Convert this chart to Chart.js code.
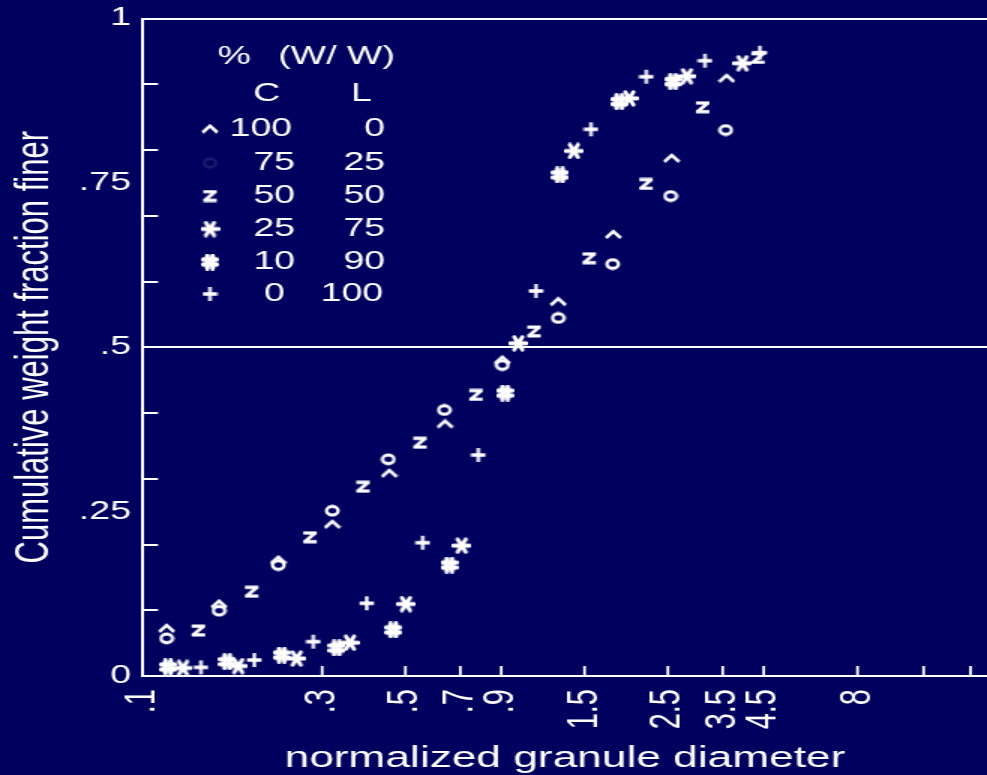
<!DOCTYPE html>
<html>
<head>
<meta charset="utf-8">
<script src="https://cdn.jsdelivr.net/npm/chart.js@4.4.1/dist/chart.umd.min.js"></script>
<style>
html,body{margin:0;padding:0;background:#00005f;overflow:hidden;}
#wrap{width:658px;height:775px;transform:scaleX(1.5);transform-origin:0 0;}
canvas{display:block;}
</style>
</head>
<body>
<div id="wrap"><canvas id="c" width="658" height="775"></canvas></div>
<script>
// ---------------- data ----------------
// % (W/W) C / L mixtures
const legendC = ['100', '75', '50', '25', '10', '0'];
const legendL = ['0', '25', '50', '75', '90', '100'];

// C 100 / L 0   (^)
const c100X = [0.1156, 0.1594, 0.2293, 0.3193, 0.4528, 0.6374, 0.9055, 1.276, 1.789, 2.559, 3.585];
const c100Y = [0.0725, 0.1095, 0.1764, 0.2307, 0.3083, 0.3833, 0.4806, 0.5693, 0.6715, 0.7874, 0.909];
// C 75 / L 25   (o)
const c75X = [0.1156, 0.1594, 0.2293, 0.3193, 0.4501, 0.6346, 0.9055, 1.276, 1.782, 2.543, 3.563];
const c75Y = [0.0573, 0.0993, 0.1688, 0.2514, 0.3296, 0.4046, 0.473, 0.5445, 0.6266, 0.730, 0.8304];
// C 50 / L 50   (z)
const c50X = [0.1404, 0.1947, 0.2784, 0.3854, 0.5467, 0.7705, 1.10, 1.543, 2.186, 3.094, 4.344];
const c50Y = [0.0692, 0.1282, 0.211, 0.2879, 0.3548, 0.4274, 0.524, 0.6353, 0.7483, 0.865, 0.94];
// C 25 / L 75   (*)
const c25X = [0.1278, 0.1794, 0.2567, 0.3558, 0.5016, 0.706, 0.999, 1.405, 1.973, 2.81, 3.95];
const c25Y = [0.0122, 0.0152, 0.0266, 0.0506, 0.1095, 0.1982, 0.506, 0.7985, 0.8786, 0.9121, 0.9319];
// C 10 / L 90   (#)
const c10X = [0.1166, 0.1676, 0.2341, 0.3281, 0.4641, 0.6543, 0.9207, 1.29, 1.855, 2.579];
const c10Y = [0.0137, 0.0217, 0.0319, 0.0426, 0.07, 0.1688, 0.4304, 0.762, 0.8735, 0.9039];
// C 0 / L 100   (+)
const c0X = [0.1427, 0.1979, 0.2841, 0.3942, 0.5558, 0.7814, 1.113, 1.56, 2.19, 3.138, 4.397];
const c0Y = [0.0132, 0.0243, 0.0522, 0.1106, 0.2027, 0.3361, 0.5856, 0.8315, 0.9115, 0.9358, 0.948];

// axes
const xTickValues = [0.1, 0.3, 0.5, 0.7, 0.9, 1.5, 2.5, 3.5, 4.5, 8, 12, 16];
const xTickLabels = ['.1', '.3', '.5', '.7', '.9', '1.5', '2.5', '3.5', '4.5', '8', '', ''];
const yTickValues = [0, 0.25, 0.5, 0.75, 1];
const yTickLabels = ['0', '.25', '.5', '.75', '1'];
const yMinorTickValues = [0.1, 0.2, 0.3, 0.4, 0.5, 0.6, 0.7, 0.8, 0.9];
const xMin = 0.1, xMax = 17.7;

// ---------------- drawing ----------------
const K = 1.5;               // the reference is stretched horizontally
const BG = '#00005f';
const FONT = "'Liberation Sans', Arial, Helvetica, sans-serif";

function makeMarker(wd, hd, draw, alpha) {
  const c = document.createElement('canvas');
  c.width = Math.ceil(wd / K);
  c.height = hd;
  const g = c.getContext('2d');
  g.scale(c.width / wd, 1);
  g.globalAlpha = alpha == null ? 1 : alpha;
  g.strokeStyle = '#fff';
  g.fillStyle = '#fff';
  g.lineCap = 'butt';
  draw(g);
  return c;
}
const drawCaret = g => { g.lineWidth = 3.1; g.beginPath(); g.moveTo(1.5, 9); g.lineTo(8.5, 2.4); g.lineTo(15.5, 9); g.stroke(); };
const drawRing = g => { g.lineWidth = 3.3; g.beginPath(); g.ellipse(8, 6.5, 5.6, 4.3, 0, 0, Math.PI * 2); g.stroke(); };
const drawZee = g => { g.lineWidth = 3.3; g.beginPath(); g.moveTo(1.5, 2.2); g.lineTo(14.5, 2.2); g.moveTo(13, 2.2); g.lineTo(3, 10.8); g.moveTo(1.5, 10.8); g.lineTo(14.5, 10.8); g.stroke(); };
const drawStar = g => {
  g.lineWidth = 4; g.lineCap = 'round'; g.beginPath();
  [0, 60, 120].forEach(a => {
    const r = a * Math.PI / 180, dx = Math.cos(r) * 7.8, dy = Math.sin(r) * 7.2;
    g.moveTo(9.5 - dx, 8.5 - dy); g.lineTo(9.5 + dx, 8.5 + dy);
  });
  g.stroke();
};
const drawHash = g => {
  g.lineWidth = 4.5; g.lineCap = 'round'; g.beginPath();
  g.moveTo(6, 2.2); g.lineTo(6, 14.8); g.moveTo(11, 2.2); g.lineTo(11, 14.8);
  g.moveTo(2.2, 6); g.lineTo(14.8, 6); g.moveTo(2.2, 11); g.lineTo(14.8, 11);
  g.stroke();
};
const drawPlus = g => { g.lineWidth = 3.3; g.beginPath(); g.moveTo(1, 8); g.lineTo(15, 8); g.moveTo(8, 1); g.lineTo(8, 15); g.stroke(); };

const mCaret = makeMarker(17, 11, drawCaret);
const mRing = makeMarker(16, 13, drawRing);
const mRingFaint = makeMarker(16, 13, drawRing, 0.1);
const mZee = makeMarker(16, 13, drawZee);
const mStar = makeMarker(19, 17, drawStar);
const mHash = makeMarker(17, 17, drawHash);
const mPlus = makeMarker(16, 16, drawPlus);

const pts = (xs, ys) => xs.map((x, i) => ({ x: x, y: ys[i] }));
const ds = (label, xs, ys, marker) => ({
  label: label, data: pts(xs, ys), pointStyle: marker, pointRadius: 6,
  showLine: false, borderColor: '#fff', backgroundColor: '#fff'
});

const bgPlugin = {
  id: 'bg',
  beforeDraw(chart) {
    const ctx = chart.ctx;
    ctx.save(); ctx.fillStyle = BG; ctx.fillRect(0, 0, chart.width, chart.height); ctx.restore();
  }
};

const innerTicks = {
  id: 'innerTicks',
  afterDatasetsDraw(chart) {
    const { ctx, chartArea, scales } = chart;
    ctx.save();
    ctx.strokeStyle = '#fff';
    ctx.lineWidth = 2;
    yMinorTickValues.forEach(v => {
      const py = Math.round(scales.y.getPixelForValue(v));
      ctx.beginPath(); ctx.moveTo(chartArea.left, py); ctx.lineTo(chartArea.left + 10, py); ctx.stroke();
    });
    ctx.lineWidth = 1.8;
    xTickValues.forEach(v => {
      if (v <= xMin) return;
      const px = scales.x.getPixelForValue(v);
      ctx.beginPath(); ctx.moveTo(px, chartArea.bottom); ctx.lineTo(px, chartArea.bottom - 10); ctx.stroke();
    });
    ctx.restore();
  }
};

const legendMarkers = [mCaret, mRingFaint, mZee, mStar, mHash, mPlus];
const tablePlugin = {
  id: 'table',
  afterDraw(chart) {
    const ctx = chart.ctx;
    ctx.save();
    ctx.fillStyle = '#fff';
    ctx.font = '25px ' + FONT;
    ctx.textBaseline = 'middle';
    ctx.textAlign = 'left';
    ctx.fillText('%', 145, 57);
    ctx.fillText('(W/ W)', 185.5, 57);
    ctx.fillText('C', 168.7, 94);
    ctx.textAlign = 'right';
    ctx.fillText('L', 248, 94);
    const rowY = [129, 163, 196, 229, 262, 294];
    const cRight = [194.7, 196.7, 196.7, 196.7, 196.7, 190];
    const lRight = [256.7, 256.7, 256.7, 256.7, 256.7, 255.5];
    legendC.forEach((t, i) => {
      const m = legendMarkers[i];
      ctx.drawImage(m, 140 - m.width / 2, rowY[i] - m.height / 2);
      ctx.fillText(t, cRight[i], rowY[i]);
      ctx.fillText(legendL[i], lRight[i], rowY[i]);
    });
    ctx.restore();
  }
};

new Chart(document.getElementById('c'), {
  type: 'scatter',
  data: {
    datasets: [
      ds('100 / 0', c100X, c100Y, mCaret),
      ds('75 / 25', c75X, c75Y, mRing),
      ds('50 / 50', c50X, c50Y, mZee),
      ds('25 / 75', c25X, c25Y, mStar),
      ds('10 / 90', c10X, c10Y, mHash),
      ds('0 / 100', c0X, c0Y, mPlus)
    ]
  },
  plugins: [bgPlugin, innerTicks, tablePlugin],
  options: {
    responsive: false,
    animation: false,
    devicePixelRatio: 1,
    layout: { autoPadding: false, padding: { top: 18.5, left: 0, right: 0, bottom: 0 } },
    plugins: { legend: { display: false }, tooltip: { enabled: false } },
    scales: {
      x: {
        type: 'logarithmic', position: 'bottom', min: xMin, max: xMax,
        afterBuildTicks: s => { s.ticks = xTickValues.map(v => ({ value: v })); },
        afterFit: s => { s.height = 99; s.paddingLeft = 0; s.paddingRight = 0; },
        ticks: {
          autoSkip: false, minRotation: 90, maxRotation: 90, padding: 13,
          color: '#fff', font: { family: FONT, size: 29 },
          callback: (v, i) => xTickLabels[i]
        },
        grid: { display: true, drawOnChartArea: false, drawTicks: false, color: 'rgba(0,0,0,0)' },
        border: { display: true, color: '#fff', width: 2 },
        title: {
          display: true, text: 'normalized granule diameter', color: '#fff',
          font: { family: FONT, size: 29.5, lineHeight: 1.1 }, padding: { top: 0, bottom: 0 }
        }
      },
      y: {
        type: 'linear', min: 0, max: 1,
        afterBuildTicks: s => { s.ticks = yTickValues.map(v => ({ value: v })); },
        afterFit: s => { s.width = 95.33; s.paddingTop = 0; s.paddingBottom = 0; },
        ticks: {
          padding: 8, color: '#fff', font: { family: FONT, size: 25 },
          callback: (v, i) => yTickLabels[i]
        },
        grid: {
          drawTicks: false, lineWidth: 2,
          color: c => (c.tick && (c.tick.value === 0.5 || c.tick.value === 1)) ? '#fff' : 'rgba(0,0,0,0)'
        },
        border: { display: true, color: '#fff', width: 2 },
        title: {
          display: true, text: 'Cumulative weight fraction finer', color: '#fff',
          font: { family: FONT, size: 31 }, padding: { top: 5, bottom: 0 }
        }
      }
    }
  }
});
</script>
</body>
</html>
